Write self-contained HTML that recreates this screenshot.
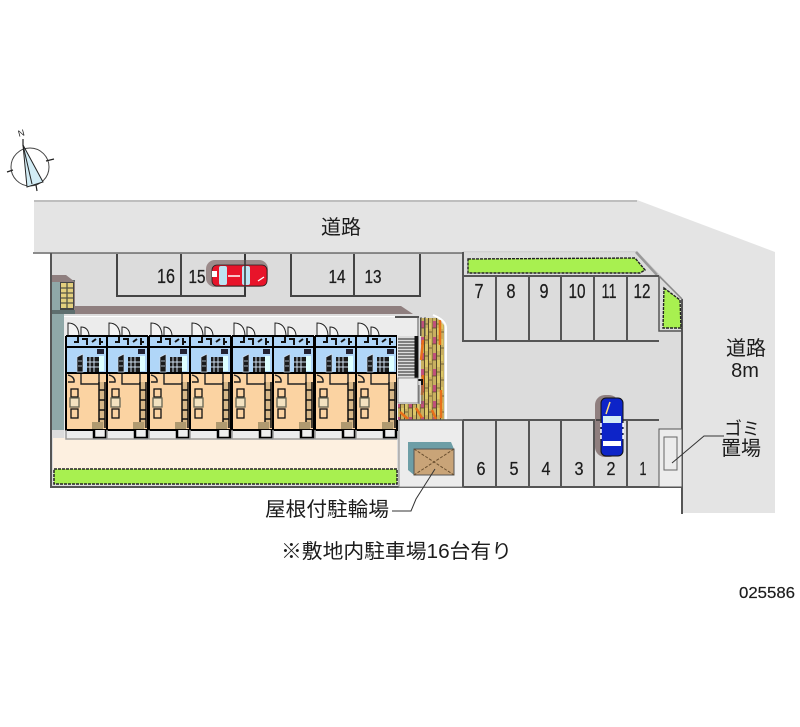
<!DOCTYPE html>
<html lang="ja"><head><meta charset="utf-8"><title>配置図</title>
<style>
html,body{margin:0;padding:0;background:#fff}
svg{display:block;filter:blur(.35px)}
text{font-family:"Liberation Sans","Noto Sans CJK JP",sans-serif;fill:#1c1c1c}
.n{font-size:20px;text-anchor:middle;stroke:#1c1c1c;stroke-width:.25px}
.s{font-size:18px;text-anchor:middle;stroke:#1c1c1c;stroke-width:.25px}
.j{font-size:20px;text-anchor:middle}
</style></head><body>
<svg width="800" height="727" viewBox="0 0 800 727" xmlns="http://www.w3.org/2000/svg">
<defs>
<pattern id="brick" width="12" height="16" patternUnits="userSpaceOnUse">
<rect width="12" height="16" fill="#c8b060"/>
<rect x="1" y="1" width="3" height="7" fill="#c0507a"/>
<rect x="5" y="8" width="3" height="7" fill="#dcc868"/>
<rect x="9" y="3" width="2" height="6" fill="#dcc868"/>
<path d="M0 0V16M4.5 0V16M8.5 0V16" stroke="#5a4c2c" stroke-width="1"/>
<path d="M0 8H4M4.5 4H8.5M8.5 12H12" stroke="#5a4c2c" stroke-width=".7"/>
</pattern>
<g id="unit">
<rect x="0" y="14" width="41" height="37" fill="#b0d6f8"/>
<rect x="0" y="51" width="41" height="57" fill="#fbd3a2"/>
<path d="M0 14H41M0 25H41M0 51H41" stroke="#000" stroke-width="2" fill="none"/>
<path d="M0 14V108H41V14" stroke="#000" stroke-width="2" fill="none"/>
<path d="M2 13V1Q12 1 13 13M15 13V5Q22 5 23 13" stroke="#222" stroke-width="1" fill="#f4f4f4"/>
<path d="M8 20H12V15M16 17H21V23M26 20L30 17M33 20H37M34 16V23" stroke="#111" stroke-width="2" fill="none"/>
<rect x="31" y="27" width="7" height="5" fill="#223"/>
<rect x="21" y="35" width="12" height="15" fill="#1a1a1a"/>
<path d="M24 35V50M28 35V50M21 40H33M21 45H33" stroke="#cde" stroke-width="1"/>
<path d="M11 35L17 32V50H11ZM12 39H16M12 44H16" fill="#1a1a1a" stroke="#cde" stroke-width=".7"/>
<rect x="33" y="34" width="5" height="15" fill="#dff"/>
<path d="M2 53Q9 55 8 60H2M15 52V62H33V52" stroke="#222" stroke-width="1.4" fill="none"/>
<rect x="5" y="67" width="7" height="8" fill="#fbd3a2" stroke="#111" stroke-width="1.3"/>
<rect x="4" y="76" width="9" height="9" fill="#f3e2c0" stroke="#665" stroke-width="1.3"/>
<rect x="5" y="87" width="7" height="9" fill="#fbd3a2" stroke="#111" stroke-width="1.3"/>
<rect x="33" y="60" width="6" height="46" fill="#d8b888"/>
<path d="M33 60V106M39 60V106M33 68H39M33 78H39M33 88H39M33 97H39" stroke="#111" stroke-width="1.5"/>
<rect x="26" y="100" width="11" height="7" fill="#b09a70"/>
<path d="M28 108V116H40V108" stroke="#000" stroke-width="2.5" fill="#eee"/>
<path d="M0 108V117H41" stroke="#999" stroke-width="1.5" fill="none"/>
</g>
</defs>

<!-- compass -->
<circle cx="30" cy="167" r="19" fill="#fff" stroke="#444" stroke-width="1"/>
<path d="M23 145L27 187L43 182Z" fill="#d2ecf5" stroke="#222" stroke-width="1"/>
<path d="M23 145L32 184" stroke="#222"/>
<path d="M23 139V146M7 172L13 170M46 161L54 159M36 185L37 191" stroke="#222" stroke-width="1.2"/>
<text x="22" y="136" font-size="9" text-anchor="middle" transform="rotate(-15 22 136)">N</text>

<!-- roads -->
<polygon points="34,200 637,200 775,252 775,513 682,513 682,299 637,252 34,252" fill="#e4e4e4"/>
<path d="M34 201H637" stroke="#999" stroke-width="1"/>
<!-- site -->
<polygon points="51,253 637,253 682,299 682,487 51,487" fill="#dcdcdc"/>
<path d="M33 253H463" stroke="#666" stroke-width="1.5"/>
<path d="M51 253V487H682" stroke="#555" stroke-width="2" fill="none"/>
<path d="M682 299V514" stroke="#555" stroke-width="2"/>
<path d="M463 252H637L682 299" stroke="#ccc" stroke-width="1.5" fill="none"/>

<!-- parking top left -->
<path d="M117 254V296H245V254M181 254V296M291 254V296H420V254M354 254V296" fill="none" stroke="#444" stroke-width="2"/>
<!-- car red -->
<rect x="206" y="260" width="62" height="27" rx="9" fill="#9b8a8a"/>
<rect x="212" y="265" width="55" height="21" rx="5" fill="#e8142a" stroke="#222" stroke-width=".8"/>
<rect x="219" y="266" width="8" height="19" rx="2" fill="#bde4f2"/>
<rect x="242" y="266" width="8" height="19" rx="2" fill="#bde4f2"/>
<rect x="227" y="268" width="15" height="15" fill="#e8142a"/>
<path d="M228 276H240" stroke="#fff" stroke-width="1.5"/>
<rect x="212" y="271" width="5" height="6" fill="#fff"/>
<path d="M258 281L264 277" stroke="#fff" stroke-width="1.3"/>
<path d="M245 254V296" stroke="#333" stroke-width="1.5"/>

<!-- stripe around building -->
<polygon points="52,306 401,306 413,314 52,314" fill="#8f7f7f"/>
<rect x="52" y="280" width="12" height="150" fill="#8fa8a8"/>
<rect x="52" y="280" width="23" height="34" fill="#5e6e6e"/>
<polygon points="52,275 66,275 75,282 75,310 52,310" fill="#8f7f7f"/>
<rect x="52" y="282" width="12" height="28" fill="#8fa8a8"/>
<rect x="60" y="282" width="14" height="28" fill="#444"/>
<rect x="61" y="283" width="12" height="25" fill="#e3cf7e"/>
<path d="M61 288H73M61 293H73M61 298H73M61 303H73M67 283V308" stroke="#554" stroke-width="1.3"/>
<rect x="64" y="316" width="333" height="122" fill="#ececec"/>
<rect x="53" y="438" width="344" height="31" fill="#fdf0e0"/>
<rect x="54" y="469" width="343" height="15" fill="#a8f050" stroke="#222" stroke-width="1.5" stroke-dasharray="3 1"/>
<rect x="64" y="316" width="333" height="1" fill="#fff"/>

<!-- units -->
<use href="#unit" x="66" y="322"/>
<use href="#unit" x="107" y="322"/>
<use href="#unit" x="149" y="322"/>
<use href="#unit" x="190" y="322"/>
<use href="#unit" x="232" y="322"/>
<use href="#unit" x="273" y="322"/>
<use href="#unit" x="315" y="322"/>
<use href="#unit" x="356" y="322"/>

<!-- stairs/brick -->
<rect x="397" y="316" width="22" height="104" fill="#ececec"/>
<polygon points="420,318 437,318 444,325 444,420 398,420 398,404 421,404 421,336 420,336" fill="url(#brick)"/>
<path d="M423 340L421 360M423 375L422 395M440 320V345M441 390V418M400 412L408 419M416 408L422 418M432 410L436 419" stroke="#e8701a" stroke-width="2.5" fill="none"/>
<rect x="398" y="318" width="20" height="18" fill="#ececec"/>
<path d="M395 317H419" stroke="#222" stroke-width="1.5"/>
<path d="M418 317V336M421 317V336M425 317V336" stroke="#555" stroke-width="1"/>
<rect x="398" y="336" width="18" height="42" fill="#dcdcdc"/>
<path d="M398 339H416M398 342H416M398 345H416M398 348H416M398 351H416M398 354H416M398 357H416M398 360H416M398 363H416M398 366H416M398 369H416M398 372H416M398 375H416" stroke="#222" stroke-width="1"/>
<path d="M416.5 336V378" stroke="#111" stroke-width="4"/>
<path d="M415 380H422V385" stroke="#111" stroke-width="2" fill="none"/>
<rect x="398" y="378" width="20" height="25" fill="#ececec" stroke="#777" stroke-width=".8"/>
<path d="M419 385V404M422 385V404" stroke="#666" stroke-width="1" fill="none"/>
<path d="M433 315Q446 320 446 328V420" stroke="#fff" stroke-width="2" fill="none"/>

<!-- bike shed -->
<rect x="399" y="420" width="64" height="67" fill="#ececec" stroke="#888" stroke-width="1"/>
<path d="M399 420H463" stroke="#555" stroke-width="1.5"/>
<polygon points="408,442 451,442 454,449 414,475 408,470" fill="#6d9ea6"/>
<rect x="414" y="449" width="40" height="26" fill="#c9a478" stroke="#555" stroke-width="1"/>
<path d="M414 449L454 475M454 449L414 475" stroke="#6b5030" stroke-width="1" stroke-dasharray="3 1.5"/>
<path d="M435 469L416 499L411 511H392" stroke="#333" stroke-width="1" fill="none"/>

<!-- green strips -->
<path d="M468 259L635 258L645 270L640 273H468Z" fill="#a8f050" stroke="#222" stroke-width="1.4" stroke-dasharray="3 1"/>
<path d="M636 252L657 275" stroke="#999" stroke-width="2.5"/>
<polygon points="664,288 680,300 681,328 663,328" fill="#a8f050" stroke="#222" stroke-width="1.4" stroke-dasharray="3 1"/>
<path d="M659 276V331H682" fill="none" stroke="#555" stroke-width="1.5"/>
<path d="M659 276L682 299" stroke="#888" stroke-width="1.5"/>

<!-- parking right -->
<path d="M463 252V341H659M496 276V341M529 276V341M561 276V341M594 276V341M627 276V341M463 276H659" fill="none" stroke="#555" stroke-width="2"/>
<path d="M463 420H659M463 420V487M496 420V487M529 420V487M561 420V487M594 420V487M627 420V487" fill="none" stroke="#555" stroke-width="2"/>
<rect x="659" y="429" width="23" height="58" fill="#ececec" stroke="#555" stroke-width="1"/>
<rect x="664" y="437" width="13" height="33" fill="#ececec" stroke="#666" stroke-width="1"/>
<path d="M672 463L704 436H724" stroke="#333" stroke-width="1" fill="none"/>

<!-- blue car -->
<rect x="595" y="395" width="24" height="62" rx="10" fill="#8f7f7f"/>
<rect x="601" y="398" width="22" height="58" rx="5" fill="#0d24c8" stroke="#111" stroke-width="1"/>
<rect x="603" y="416" width="18" height="7" fill="#d4ecf5"/>
<rect x="603" y="441" width="18" height="5" fill="#fff"/>
<rect x="605" y="423" width="14" height="18" fill="#0d24c8"/>
<path d="M601 423V441M623 423V441" stroke="#fff" stroke-width="1.5" stroke-dasharray="4 2"/>
<path d="M610 402L606 414" stroke="#ffe080" stroke-width="1.5"/>
<path d="M596 420H601" stroke="#333" stroke-width="1.5"/>

<!-- labels -->
<g>
<text class="n" x="166" y="283" textLength="18" lengthAdjust="spacingAndGlyphs">16</text>
<text class="s" x="197" y="283" textLength="17" lengthAdjust="spacingAndGlyphs">15</text>
<text class="s" x="337" y="283" textLength="17" lengthAdjust="spacingAndGlyphs">14</text>
<text class="s" x="373" y="283" textLength="17" lengthAdjust="spacingAndGlyphs">13</text>
<text class="n" x="479" y="298" textLength="9" lengthAdjust="spacingAndGlyphs">7</text>
<text class="n" x="511" y="298" textLength="9" lengthAdjust="spacingAndGlyphs">8</text>
<text class="n" x="544" y="298" textLength="9" lengthAdjust="spacingAndGlyphs">9</text>
<text class="n" x="577" y="298" textLength="17" lengthAdjust="spacingAndGlyphs">10</text>
<text class="n" x="609" y="298" textLength="15" lengthAdjust="spacingAndGlyphs">11</text>
<text class="n" x="642" y="298" textLength="17" lengthAdjust="spacingAndGlyphs">12</text>
<text class="s" x="481" y="475" textLength="9" lengthAdjust="spacingAndGlyphs">6</text>
<text class="s" x="514" y="475" textLength="9" lengthAdjust="spacingAndGlyphs">5</text>
<text class="s" x="546" y="475" textLength="9" lengthAdjust="spacingAndGlyphs">4</text>
<text class="s" x="579" y="475" textLength="9" lengthAdjust="spacingAndGlyphs">3</text>
<text class="s" x="611" y="475" textLength="9" lengthAdjust="spacingAndGlyphs">2</text>
<text class="s" x="643" y="475" textLength="7" lengthAdjust="spacingAndGlyphs">1</text>
<text class="j" x="341" y="234">道路</text>
<text class="j" x="746" y="355">道路</text>
<text class="j" x="745" y="377">8m</text>
<text class="j" x="742" y="435" style="font-size:18px">ゴミ</text>
<text class="j" x="741" y="455">置場</text>
<text x="265" y="516" style="font-size:20px" textLength="124" lengthAdjust="spacingAndGlyphs">屋根付駐輪場</text>
<text x="281" y="558" style="font-size:20px" textLength="231" lengthAdjust="spacingAndGlyphs">※敷地内駐車場16台有り</text>
<text x="739" y="598" style="font-size:16px;stroke:#1c1c1c;stroke-width:.2px" textLength="56" lengthAdjust="spacingAndGlyphs">025586</text>
</g>
</svg>
</body></html>
